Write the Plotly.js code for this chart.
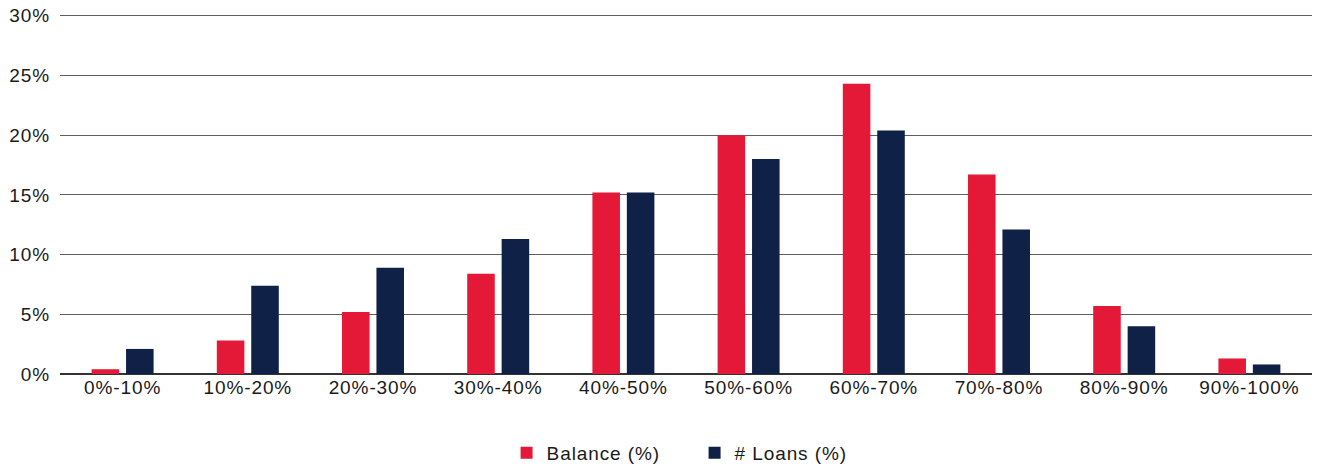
<!DOCTYPE html>
<html><head><meta charset="utf-8">
<script src="https://cdn.plot.ly/plotly-3.0.1.min.js"></script>
<style>html,body{margin:0;padding:0;background:#fff}#chart{width:1319px;height:466px}
#chart .xtick text, #chart .ytick text, #chart .legendtext{letter-spacing:0.9px}</style>
</head><body><div id="chart"></div>
<script>
const categories = ["0%-10%","10%-20%","20%-30%","30%-40%","40%-50%","50%-60%","60%-70%","70%-80%","80%-90%","90%-100%"];
const balance = [0.4, 2.8, 5.2, 8.4, 15.2, 20.0, 24.3, 16.7, 5.7, 1.3];
const loans = [2.1, 7.4, 8.9, 11.3, 15.2, 18.0, 20.4, 12.1, 4.0, 0.8];
const seriesNames = ["Balance (%)", "# Loans (%)"];
const colors = ["#E31937", "#0F2147"];

const font = {family: "Liberation Sans, Arial, sans-serif", size: 19, color: "#1a1a1a"};
const traces = [
  {type: "bar", name: seriesNames[0], x: categories, y: balance, marker: {color: colors[0]}, hoverinfo: "skip"},
  {type: "bar", name: seriesNames[1], x: categories, y: loans, marker: {color: colors[1]}, hoverinfo: "skip"}
];
const layout = {
  width: 1319, height: 466,
  margin: {l: 60, r: 7, t: 14, b: 92},
  font: font,
  paper_bgcolor: "#fff", plot_bgcolor: "#fff",
  barmode: "group", bargap: 0.45, bargroupgap: 0.2,
  xaxis: {type: "category", showgrid: false, showline: false, ticks: "", tickfont: font, automargin: false},
  yaxis: {range: [0, 30.15], tickvals: [0,5,10,15,20,25,30], ticktext: ["0%","5%","10%","15%","20%","25%","30%"],
          showgrid: true, gridcolor: "#5f5f5f", gridwidth: 1,
          zeroline: true, zerolinecolor: "#333", zerolinewidth: 1.5, ticks: "", tickfont: font, automargin: false, ticklabelstandoff: 9},
  showlegend: true,
  legend: {orientation: "h", xref: "container", yref: "container", x: 0.5266, xanchor: "center", y: 0.028, yanchor: "middle",
           font: font, itemwidth: 30, traceorder: "normal", entrywidth: 143, entrywidthmode: "pixels"}
};
Plotly.newPlot("chart", traces, layout, {displayModeBar: false, staticPlot: true});
</script></body></html>
